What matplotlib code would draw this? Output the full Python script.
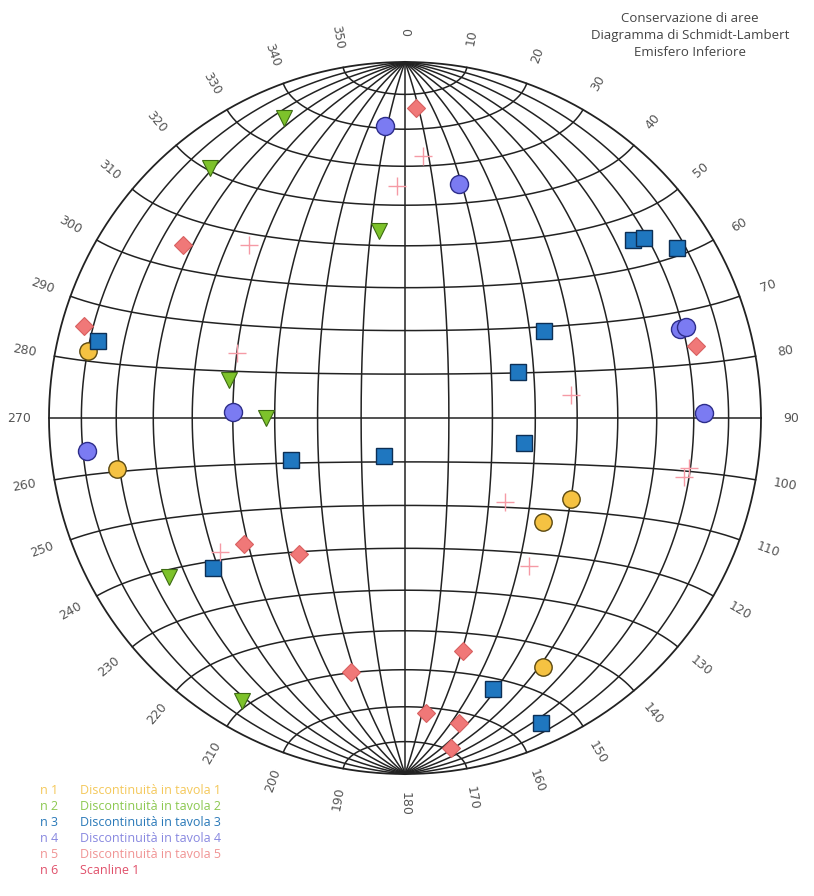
import numpy as np
from matplotlib import pyplot as plt

# poles as trend / plunge (degrees), lower hemisphere
s1_trend = [282, 260, 116, 127, 151]
s1_plunge = [10, 19, 47, 50, 21]
s2_trend = [338, 322, 352, 282, 270, 236, 210]
s2_plunge = [10, 12, 46, 48, 58, 21, 9]
s3_trend = [284, 58, 68, 102, 209, 250, 232, 162, 156, 52, 53, 58]
s3_plunge = [12, 52, 62, 62, 80, 62, 32, 21, 7, 20, 17, 11]
s4_trend = [356, 13, 72, 72, 89, 272, 264]
s4_plunge = [19, 33, 20, 18, 17, 50, 11]
s5_trend = [2, 308, 286, 76, 232, 218, 192, 166, 176, 170, 172]
s5_plunge = [14, 22, 7, 17, 42, 50, 28, 33, 18, 14, 7]
s6_trend = [4, 358, 318, 291, 82, 100, 102, 130, 140, 234]
s6_plunge = [27, 35, 35, 48, 51, 20, 21, 60, 45, 36]

legend_ids = ["n 1", "n 2", "n 3", "n 4", "n 5", "n 6"]
legend_names = ["Discontinuità in tavola 1", "Discontinuità in tavola 2",
                "Discontinuità in tavola 3", "Discontinuità in tavola 4",
                "Discontinuità in tavola 5", "Scanline 1"]
legend_colors = ["#F4C85A", "#8CC850", "#2878B8", "#8888E0", "#F09494", "#E0506A"]

title_lines = ["Conservazione di aree", "Diagramma di Schmidt-Lambert", "Emisfero Inferiore"]


def project(trend, plunge):
    t = np.radians(np.asarray(trend, float))
    p = np.radians(np.asarray(plunge, float))
    r = np.sqrt(2) * np.sin((np.pi / 2 - p) / 2)
    return r * np.sin(t), r * np.cos(t)


def net_xy(lat, lon):
    lat, lon = np.radians(lat), np.radians(lon)
    k = 1 / np.sqrt(1 + np.cos(lat) * np.cos(lon))
    return k * np.cos(lat) * np.sin(lon), k * np.sin(lat)


W, H = 814, 896
cx, cy, R = 405, 418, 356

fig = plt.figure(figsize=(W / 100, H / 100), dpi=100)
ax = fig.add_axes([0, 0, 1, 1])
ax.set_xlim(-cx / R, (W - cx) / R)
ax.set_ylim(-(H - cy) / R, cy / R)
ax.axis("off")

grid = dict(color="#222222", lw=1.1, zorder=1)
s = np.linspace(-90, 90, 361)
for v in range(-80, 90, 10):
    x, y = net_xy(s, np.full_like(s, v))
    ax.plot(x, y, **grid)
    x, y = net_xy(np.full_like(s, v), s)
    ax.plot(x, y, **grid)
a = np.linspace(0, 2 * np.pi, 721)
ax.plot(np.cos(a), np.sin(a), color="#222222", lw=1.3, zorder=1)

# azimuth labels
for az in range(0, 360, 10):
    t = np.radians(az)
    rot = ((90 - az + 90) % 180) - 90
    ax.text(1.085 * np.sin(t), 1.085 * np.cos(t), str(az), rotation=rot,
            ha="center", va="center", fontsize=9, color="#555555",
            rotation_mode="anchor")

x, y = project(s1_trend, s1_plunge)
ax.plot(x, y, "o", ms=12.5, mfc="#F5C242", mec="#5a4810", mew=1.0, ls="none", zorder=3)
x, y = project(s2_trend, s2_plunge)
ax.plot(x, y, "v", ms=12, mfc="#7DC22B", mec="#3d6b12", mew=0.8, ls="none", zorder=3)
x, y = project(s3_trend, s3_plunge)
ax.plot(x, y, "s", ms=12, mfc="#1F77C0", mec="#0d2f55", mew=1.0, ls="none", zorder=3)
x, y = project(s4_trend, s4_plunge)
ax.plot(x, y, "o", ms=13, mfc="#7B7BF2", mec="#2d2d8a", mew=1.0, ls="none", zorder=3)
x, y = project(s5_trend, s5_plunge)
ax.plot(x, y, "D", ms=9.5, mfc="#F07878", mec="#d86060", mew=0.8, ls="none", zorder=3)
x, y = project(s6_trend, s6_plunge)
ax.plot(x, y, "+", ms=13, mec="#F59AA5", mew=1.0, ls="none", zorder=3)

for i, line in enumerate(title_lines):
    fig.text(690 / W, 1 - (18 + 17 * i) / H, line, ha="center", va="center",
             fontsize=9.5, color="#444444", family="Open Sans")

for i in range(len(legend_ids)):
    yy = 1 - (790 + 16 * i) / H
    fig.text(40 / W, yy, legend_ids[i], ha="left", va="center", fontsize=9,
             color=legend_colors[i], family="Open Sans")
    fig.text(80 / W, yy, legend_names[i], ha="left", va="center", fontsize=9,
             color=legend_colors[i], family="Open Sans")

fig.savefig("out.png", dpi=100)
plt.close()
